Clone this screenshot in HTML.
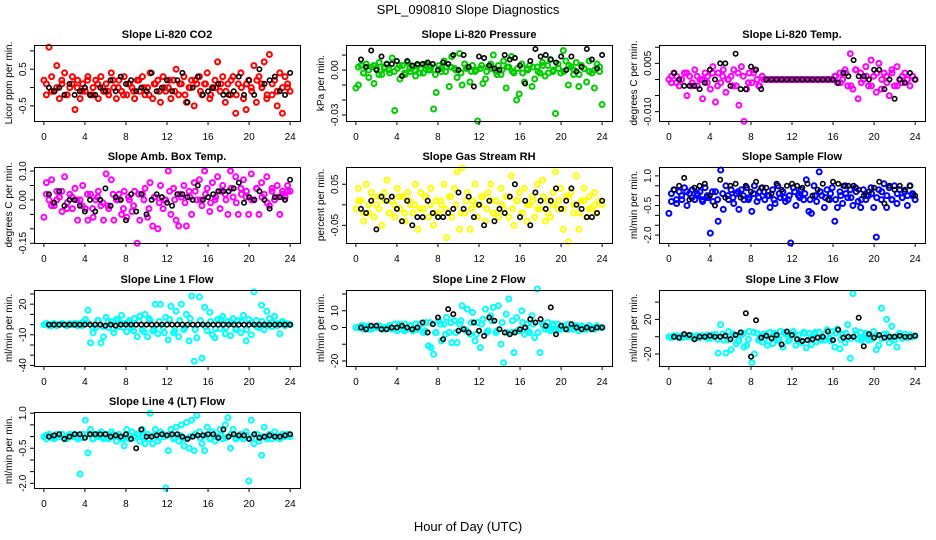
<!DOCTYPE html>
<html><head><meta charset="utf-8">
<style>
html,body{margin:0;padding:0;background:#fff;}
svg{display:block;font-family:"Liberation Sans",Arial,sans-serif;}
</style></head>
<body>
<svg id="chart" width="936" height="540" viewBox="0 0 936 540">
<text x="468" y="14" text-anchor="middle" font-size="13">SPL_090810  Slope Diagnostics</text>
<text x="468" y="531" text-anchor="middle" font-size="13">Hour of Day (UTC)</text>
</svg>
<script>
// ---- data ----
const xTicks = [0,4,8,12,16,20,24];
const xTickLabels = ["0","4","8","12","16","20","24"];

const co2Vals = [0.2,-0.2,1.1,0.3,-0.1,0.6,-0.3,0.1,0.4,-0.2,0.0,0.3,
-0.6,0.2,-0.3,0.1,-0.1,0.3,-0.2,0.0,0.2,-0.3,0.3,-0.1,
0.1,-0.2,0.4,0.0,-0.3,0.2,-0.1,0.3,-0.2,0.1,0.0,-0.3,
0.2,-0.1,0.3,-0.2,0.0,0.4,-0.3,0.1,0.2,-0.4,0.3,-0.1,
0.0,-0.3,0.2,0.5,-0.2,0.1,0.3,-0.4,0.0,0.2,-0.5,0.1,
0.3,-0.2,0.1,0.4,-0.3,0.0,0.2,0.7,-0.1,0.3,-0.4,0.1,
-0.2,0.3,-0.7,0.1,0.4,-0.3,-0.6,0.2,0.0,0.6,-0.4,0.3,
0.1,0.7,-0.3,0.9,-0.2,0.2,-0.5,0.4,-0.7,0.3,0.0,-0.1];
const co2Core = [0.1,-0.1,0.0,0.2,-0.2,0.1,0.0,-0.1,0.2,-0.2,0.1,0.0,-0.1,0.2,0.0,-0.2,0.1,-0.1,0.2,0.0,-0.2,0.1,-0.1,0.0,
0.2,-0.1,0.1,-0.2,0.0,0.2,-0.1,0.1,-0.2,0.0,0.1,-0.1,0.2,-0.2,0.0,0.1,-0.1,0.2,0.0,-0.2,0.1,-0.1,0.0,0.1];
const co2Black = [0.0,-0.1,0.0,-0.2,0.1,-0.2,-0.1,0.0,-0.2,-0.2,0.0,-0.1,
0.2,-0.1,0.3,0.1,0.2,-0.1,0.0,-0.1,0.4,-0.1,0.0,0.2,
-0.1,0.2,0.4,-0.4,0.0,0.3,-0.2,-0.1,0.0,0.1,-0.2,-0.2,
-0.1,0.3,-0.2,0.2,-0.2,0.5,0.1,0.2,0.3,-0.1,-0.2,0.4];

const presVals = [-.012,-.010,.003,-.002,.004,-.005,.002,-.009,.001,.005,-.003,.002,
.004,-.002,.008,-.027,.001,-.006,.003,-.003,.005,-.001,.002,-.004,
.003,.001,-.002,.004,.000,.002,-.026,-.015,.003,-.001,.006,.002,
-.011,.009,.001,-.005,.011,-.010,.004,.002,-.008,.003,-.001,-.034,
.001,-.009,-.006,.002,.004,.010,-.001,.003,-.003,.006,-.012,.002,
.009,-.002,-.020,-.016,.004,-.008,.001,.003,-.011,-.006,.002,-.002,
.005,-.004,.003,.007,-.001,-.029,.004,-.002,.013,.006,-.010,.002,
-.003,.005,-.011,.003,.001,-.008,.006,-.002,-.012,.004,-.001,-.023];
const presCore = [.002,-.002,.000,.003,-.003,.001,.000,-.001,.003,-.002,.001,.000,-.002,.003,.000,-.003,.001,-.001,.002,.000,-.002,.001,-.001,.000,
.003,-.001,.001,-.003,.000,.002,-.001,.001,-.002,.000,.002,-.001,.003,-.002,.000,.001,-.001,.003,.000,-.003,.001,-.001,.000,.002];
const presBlack = [.007,.002,.013,.000,.009,.004,.004,.006,-.004,.006,.003,.004,
.004,.005,.004,.000,.005,.004,.010,.000,.010,.002,-.011,.009,
.008,.003,.001,.000,.010,.007,.008,.003,-.009,.006,.014,.009,
.010,.007,.005,.009,.000,.009,-.001,.002,.014,.007,.001,.010];

const tempVals = [.000,-.001,.002,.001,-.002,.000,.002,-.005,.001,-.001,.003,-.002,
.000,-.006,.002,.001,-.003,.004,-.007,.002,-.001,.003,-.004,.000,
.001,.003,-.002,-.008,.004,-.013,-.003,.002,-.001,.003,.000,-.002,
.001,.000,.000,.000,.000,.000,.000,.000,.000,.000,.000,.000,
.000,.000,.000,.000,.000,.000,.000,.000,.000,.000,.000,.000,
.000,.000,.000,.000,.001,-.001,.002,.000,.003,-.002,.008,-.003,
.003,-.006,.002,.000,.004,-.002,.006,.001,-.004,.005,-.003,.002,
.001,-.005,.003,-.002,.004,.000,-.001,.002,.000,-.002,.001,.000];
const tempCore = [.001,-.001,.000,.002,-.002,.001,.000,-.001,.002,-.002,.001,.000,-.002,.002,.001,-.001,.002,-.002,.000,.000,.000,.000,.000,.000,
.000,.000,.000,.000,.000,.000,.000,.000,.001,-.001,.002,-.002,.003,-.001,.001,-.002,.002,.000,-.001,.002,-.002,.001,.000,.001];
const tempBlack = [.002,.000,-.002,-.002,-.002,-.003,-.001,.003,.000,.005,.005,-.002,
.008,-.003,-.003,.004,.003,-.003,.000,.000,.000,.000,.000,.000,
.000,.000,.000,.000,.000,.000,.000,.000,-.001,.002,.001,.006,
.001,.001,.000,.003,.003,-.003,.000,-.006,.000,-.001,.002,.000];

const ambVals = [-.06,.06,.00,.07,-.02,.03,.01,-.04,.08,-.01,.02,-.03,
.04,-.07,.00,.05,-.03,-.07,.02,-.06,.00,.03,-.02,-.07,
.09,-.03,.07,-.07,.00,.02,-.05,.03,-.06,.00,-.04,.03,
-.15,-.07,.02,.04,-.06,.06,-.09,.01,-.10,.05,-.03,.00,
.10,-.05,.04,-.07,-.09,.01,.05,-.09,.03,-.05,.06,.00,
.07,-.02,.10,.04,-.04,.06,.00,.08,-.03,.05,.02,-.05,
.10,.01,.08,-.05,.04,.07,.01,-.05,.09,.00,.04,-.05,
.06,.02,.08,-.02,.04,.00,.05,-.05,.03,.01,.05,.03];
const ambCore = [.02,-.02,.00,.03,-.03,.01,.00,-.02,.02,-.03,.01,-.01,-.02,.02,.00,-.03,.01,-.02,.02,.00,-.03,.01,-.01,.00,
.03,.00,.02,-.01,.01,.03,.00,.02,-.01,.01,.03,.00,.04,-.01,.02,.03,.00,.04,.01,-.01,.03,.01,.02,.03];
const ambBlack = [.02,-.01,.03,-.02,.00,.00,-.02,-.04,.00,-.04,.00,.04,
-.02,.01,.00,-.07,.02,-.04,.02,-.05,.00,.02,.01,-.01,
-.02,.02,.02,.01,.00,.05,.00,.01,.02,.03,.03,.03,
.04,.06,-.01,.01,.00,.03,.00,-.03,.01,.01,.00,.07];

const rhVals = [-.01,.04,.01,-.04,.05,-.02,.03,-.03,.00,.02,-.05,.03,
.06,-.02,.01,-.03,.04,-.01,.02,-.04,.03,.00,-.02,.05,
-.06,.03,-.01,.02,-.03,.04,-.05,.01,-.02,.00,.05,-.08,
.02,-.03,.04,.08,-.06,.09,-.02,.03,-.06,.01,.05,-.03,
.00,.02,-.04,.03,.05,-.02,.01,-.03,.04,-.01,.02,-.03,
.07,-.05,.01,.03,-.02,.04,-.04,.00,.02,-.03,.05,-.01,
.06,-.04,.01,-.03,.03,.08,-.01,.04,-.06,.02,-.09,.03,
-.02,.07,-.06,.01,.04,-.03,.02,-.01,.03,-.02,.01,.00];
const rhCore = [.01,-.02,.00,.02,-.01,.01,-.02,.00,.02,-.02,.01,.00,-.01,.02,.00,-.02,.01,-.01,.02,.00,-.02,.01,-.01,.00,
.02,-.01,.01,-.02,.00,.02,-.01,.01,-.02,.00,.01,-.01,.02,-.02,.00,.01,-.01,.02,.00,-.02,.01,-.01,.00,.01];
const rhBlack = [-.01,-.02,.01,-.06,.02,.01,.02,-.01,-.04,.01,-.05,-.03,
-.03,.01,-.02,-.03,-.03,-.02,-.01,.03,-.01,.02,-.03,.00,
-.05,.01,-.04,-.01,-.02,.02,.05,-.03,.01,-.05,.03,.01,
-.01,.01,.04,-.01,.01,.04,.00,-.01,-.03,-.03,-.02,.01];

const sampVals = [-.9,-.3,.3,-.4,.2,-.2,.4,-.5,.1,.3,-.2,.0,
.2,-.3,.4,-.1,-1.9,-.3,.2,-1.3,1.3,-.7,.5,-.2,
.3,-.4,.1,-.7,.3,-.2,.4,-.1,-.8,.5,-.3,.2,
.4,-.2,.0,-.6,.3,-.4,.5,-.1,.2,-.3,-.2,-2.4,
.4,-.5,.0,.3,-.2,.8,-.8,-.9,.5,-.3,1.2,.0,
-.6,.3,-.2,.4,-1.3,-.6,.2,-.4,.5,-.1,.3,-.5,
.4,-.3,-.6,.3,-.2,.0,.4,-.6,-2.1,.3,-.2,.6,
-.6,.4,-.2,.5,-.4,.3,-.1,.2,-.5,.5,.0,-.2];
const sampCore = [.1,-.2,.0,.2,-.1,.1,-.2,.0,.2,-.2,.1,.0,-.1,.2,.0,-.2,.1,-.1,.2,.0,-.2,.1,-.1,.0,
.2,-.1,.1,-.2,.0,.2,-.1,.1,-.2,.0,.1,-.1,.2,-.2,.0,.1,-.1,.2,.0,-.2,.1,-.1,.0,.1];
const sampBlack = [.3,.5,.9,-.2,.4,.5,.6,.0,-.5,.8,-.1,.5,
.6,-.1,.5,.2,.7,.4,.4,.1,.6,.3,.5,.6,
.5,.4,.6,.0,.3,.6,-.2,.7,.6,.5,.5,.5,
.3,.0,.2,.4,.7,-.4,.5,.3,.5,.3,.5,.0];

const line1Vals = [0,1,-1,0,1,-1,0,1,0,-1,1,0,
1,-1,0,2,5,14,-18,-8,-3,4,-18,-12,
7,-3,3,-8,5,-2,9,1,-7,4,-3,6,
-12,8,-5,10,-12,4,-6,20,-9,20,-3,7,
-15,18,-8,13,-12,20,-5,10,-16,28,-36,-13,
27,-33,17,-6,12,-10,-13,5,-4,8,-9,3,
-11,6,-5,4,-8,9,-16,5,-10,32,4,-3,
19,-5,13,6,-2,8,1,-9,3,-1,1,0];
const line1Core = [1,-1,0,1,-1,0,1,-1,2,-3,4,-2,3,-4,5,-3,2,-6,4,-7,6,-5,3,-8,
5,-6,4,-3,6,-5,4,-2,3,-4,5,-3,2,-4,3,-5,2,-2,3,-1,2,-1,1,0];
const line1Black = [0,0,0,0,0,0,0,0,0,0,0,-1,
0,-1,0,0,0,0,0,0,0,0,0,0,
0,0,0,0,0,0,0,0,0,0,0,0,
0,0,0,0,0,0,0,0,0,0,0,0];

const line2Vals = [0,0,1,-1,0,1,-1,0,0,1,-1,0,
0,1,-1,2,-2,1,-1,2,-1,1,-2,2,
-1,2,-3,3,-11,-12,-16,-3,4,-8,2,6,
-3,-9,4,-9,2,13,-1,11,-4,9,-8,3,
-12,5,11,-2,7,12,-3,13,-10,-21,8,17,
-3,-15,6,-2,10,-4,2,-3,7,-6,23,-15,
2,-1,3,-2,1,-2,2,-1,1,-1,2,0,
-1,1,-2,1,0,-1,1,0,-1,1,0,0];
const line2Core = [0,1,-1,0,1,-1,1,-1,2,-2,1,-1,2,-2,3,-3,2,-4,3,-3,4,-2,3,-4,
2,-3,4,-2,3,-3,4,-2,3,-2,2,-3,1,-1,2,-1,1,-1,1,0,-1,1,0,0];
const line2Black = [0,-1,1,1,-1,-1,0,0,1,0,-1,0,
3,-3,2,6,-7,11,8,-2,-1,-3,3,-2,
-5,6,4,-1,-3,-4,-3,-1,0,5,3,5,
1,12,-4,1,-1,2,0,-1,0,-1,0,0];

const line3Vals = [0,-1,1,0,-1,1,0,0,1,-1,0,1,
-1,1,0,2,-2,1,3,-19,14,-4,-19,6,
-15,3,-8,-5,2,-12,-10,6,-30,-20,4,-3,
-6,3,-10,5,-8,2,-4,6,-12,3,-5,1,
6,-10,2,-7,5,-13,4,-9,3,-6,5,-3,
-4,8,-2,6,-12,9,-14,3,-7,14,-25,50,
7,-3,5,-2,4,-4,1,6,-15,-10,33,3,
20,-7,12,-4,-12,4,-2,3,-1,2,0,1];
const line3Core = [0,1,-1,0,1,-1,1,-2,2,-3,3,-4,2,-5,4,-3,5,-4,3,-5,4,-3,5,-4,
3,-5,4,-3,5,-4,3,-5,4,-3,4,-2,3,-4,2,-3,2,-2,3,-1,1,-1,0,0];
const line3Black = [0,-1,3,2,-3,0,0,1,0,0,1,-3,
2,5,27,-23,19,-1,1,-2,2,-9,6,2,
-3,-5,-4,-3,-1,0,6,-4,8,-1,0,0,
22,-11,3,-1,2,-1,0,0,1,0,0,1];

const line4Vals = [0,-.1,.1,0,-.1,.1,0,.1,-.1,0,.1,0,
.1,-.1,-1.6,.1,.7,-.7,.3,-.1,.1,0,.2,-.1,
.1,-.1,.2,0,-.2,.1,-.1,-.4,.3,-.1,.2,0,
.1,-.2,.3,-.3,.1,1.0,-.3,.3,-.2,.2,.1,-2.2,
-.6,.3,-.1,.4,-.2,.5,-.4,.6,-.5,.7,-.6,.9,
.2,-.3,-.6,.4,-.1,.2,-.2,0,.3,-.1,.5,.8,
-.5,.3,-.1,0,.1,-.1,.2,-1.9,.7,-.3,.1,-.2,
-.8,.4,0,.1,-.1,.2,0,-.1,.1,0,.1,0];
const line4Core = [.05,-.05,0,.1,-.1,.05,0,-.05,.1,-.1,.05,0,-.05,.1,0,-.1,.05,-.05,.1,0,-.1,.05,-.05,0,
.1,-.05,.05,-.1,0,.1,-.05,.05,-.1,0,.05,-.05,.1,-.1,0,.05,-.05,.1,0,-.1,.05,-.05,0,.05];
const line4Black = [0,.05,.1,-.1,0,.1,.1,-.05,.1,.1,.1,.1,
0,.05,0,.1,-.1,-.5,.3,0,0,.05,.1,.05,
.1,.1,0,-.1,0,.05,.05,.1,.1,-.05,.3,0,
.1,.05,.05,-.1,.1,-.05,0,.05,0,0,.05,.1];

const panelTitles = ["Slope Li-820 CO2","Slope Li-820 Pressure","Slope Li-820 Temp.","Slope Amb. Box Temp.","Slope Gas Stream RH","Slope Sample Flow","Slope Line 1 Flow","Slope Line 2 Flow","Slope Line 3 Flow","Slope Line 4 (LT) Flow"];
const yTitles = ["Licor ppm per min.","kPa per min.","degrees C per min.","degrees C per min.","percent per min.","ml/min per min.","ml/min per min.","ml/min per min.","ml/min per min.","ml/min per min."];
const yTicks = [[-0.5,0,0.5,1.0],[-0.03,-0.02,-0.01,0,0.01],[-0.010,-0.005,0,0.005,0.010],[-0.15,-0.1,-0.05,0,0.05,0.1],[-0.05,0,0.05],[-2,-1.5,-1,-0.5,0,0.5,1],[-40,-30,-20,-10,0,10,20,30],[-20,-10,0,10,20],[-20,0,20,40],[-2,-1.5,-1,-0.5,0,0.5,1]];
const yTickLabels = [["-0.5","","0.5",""],["-0.03","","","0.00",""],["-0.010","","","0.005",""],["-0.15","","","0.00","","0.10"],["-0.05","","0.05"],["-2.0","","","-0.5","","","1.0"],["-40","","","-10","","","20",""],["-20","","0","10",""],["-20","","20",""],["-2.0","","","-0.5","","","1.0"]];
const colouredSeries = [co2Vals,presVals,tempVals,ambVals,rhVals,sampVals,line1Vals,line2Vals,line3Vals,line4Vals];
const coreSeries = [co2Core,presCore,tempCore,ambCore,rhCore,sampCore,line1Core,line2Core,line3Core,line4Core];
const blackSeries = [co2Black,presBlack,tempBlack,ambBlack,rhBlack,sampBlack,line1Black,line2Black,line3Black,line4Black];

// ---- layout ----
const colours = ["#ff0000","#00cc00","#ff00ff","#ff00ff","#ffff00","#0000ff","#00ffff","#00ffff","#00ffff","#00ffff"];
const yDomains = [[-0.91,1.16],[-0.034,0.0167],[-0.0129,0.0107],[-0.149,0.114],[-0.093,0.092],[-2.4,1.45],[-40.6,33.9],[-23,22.4],[-33.9,54],[-2.2,1.05]];
const colLeft = [34,346,659], rowTop = [45,167,290,412], W = 266, H = 76;
const NS = "http://www.w3.org/2000/svg";
const svg = document.getElementById("chart");
function mk(tag, attrs, parent){const e=document.createElementNS(NS,tag);for(const k in attrs)e.setAttribute(k,attrs[k]);(parent||svg).appendChild(e);return e;}

for(let p=0;p<10;p++){
  const L = colLeft[p%3], T = rowTop[Math.floor(p/3)];
  const [y0,y1] = yDomains[p];
  const xs = h => L + (h+0.96)/25.92*W;
  const ys = v => T + (y1-v)/(y1-y0)*H;
  const g = mk("g",{});
  
  
  const t = mk("text",{x:L+W/2,y:T-7,"text-anchor":"middle","font-size":"11","font-weight":"bold"},g);
  t.textContent = panelTitles[p];
  
  
  const yt = mk("text",{x:0,y:0,"text-anchor":"middle","font-size":"10",transform:`translate(${L-22},${T+H/2}) rotate(-90)`},g);
  yt.textContent = yTitles[p];
  
  
  // points
  const pts = mk("g",{fill:"none",stroke:colours[p],"stroke-width":"2"},g);
  
  
  const cv = colouredSeries[p], n = cv.length;
  cv.forEach((v,i)=>{
    const c = mk("circle",{cx:xs(24*i/(n-1)).toFixed(1),cy:ys(v).toFixed(1),r:"2.5"},pts);
    
    
  });
  const cc = coreSeries[p], m = cc.length;
  cc.forEach((v,i)=>{
    const c = mk("circle",{cx:xs(24*(i+0.5)/m).toFixed(1),cy:ys(v).toFixed(1),r:"2.5"},pts);
    
    
  });
  const bv = blackSeries[p];
  const bpts = mk("g",{fill:"none",stroke:"#000","stroke-width":"1.6"},g);
  
  
  bv.forEach((v,i)=>{
    const c = mk("circle",{cx:xs(0.5*(i+1)).toFixed(1),cy:ys(v).toFixed(1),r:"2.2"},bpts);
    
    
  });
  // box
  const box = mk("rect",{x:L+0.5,y:T+0.5,width:W,height:H,fill:"none",stroke:"#000","stroke-width":"1"},g);
  
  
  // x axis
  const xa = mk("g",{stroke:"#000","stroke-width":"1"},g);
  
  
  mk("line",{x1:xs(xTicks[0]),x2:xs(xTicks[xTicks.length-1]),y1:T+H+0.5,y2:T+H+0.5},xa);
  xTicks.forEach((h,i)=>{
    mk("line",{x1:xs(h),x2:xs(h),y1:T+H,y2:T+H+4},xa);
    const lb = mk("text",{x:xs(h),y:T+H+19,"text-anchor":"middle","font-size":"10",stroke:"none"},g);
    lb.textContent = xTickLabels[i];
    
    
  });
  // y axis
  const ya = mk("g",{stroke:"#000","stroke-width":"1"},g);
  
  
  const tk = yTicks[p];
  tk.forEach((v,i)=>{
    mk("line",{x1:L-4,x2:L,y1:ys(v),y2:ys(v)},ya);
    if(yTickLabels[p][i]){
      const lb = mk("text",{x:0,y:0,"text-anchor":"middle","font-size":"10",transform:`translate(${L-8},${ys(v)}) rotate(-90)`},g);
      lb.textContent = yTickLabels[p][i];
      
      
    }
  });
}
</script>
</body></html>
